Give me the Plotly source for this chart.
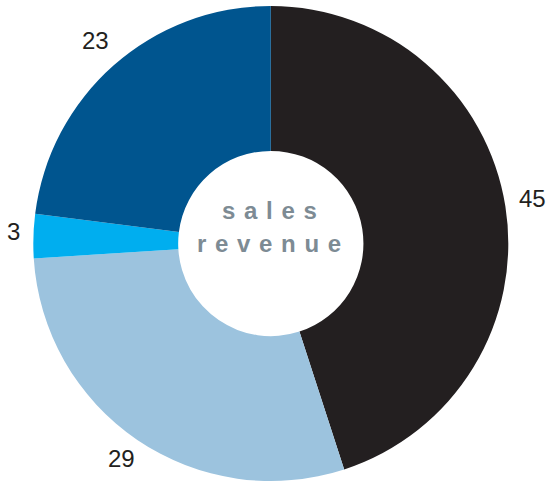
import math
import plotly.graph_objects as go

categories = ["A", "B", "C", "D"]
values = [45, 29, 3, 23]
colors = ["#231f20", "#9cc3de", "#00aeef", "#00558f"]
center_lines = ["sales", "revenue"]

W, H = 550, 484
cx, cy, R = 270.8, 243.5, 237.5
LABEL_GAP = 13
LABEL_SIZE = 24
FONT = "Liberation Sans, Arial, sans-serif"

fig = go.Figure(go.Pie(
    labels=categories,
    values=values,
    sort=False,
    direction="clockwise",
    rotation=0,
    hole=0.39,
    marker=dict(colors=colors, line=dict(width=0)),
    textinfo="none",
    hoverinfo="skip",
    domain=dict(x=[(cx - R) / W, (cx + R) / W], y=[(H - cy - R) / H, (H - cy + R) / H]),
    automargin=False,
))

# value labels placed just outside each slice at its mid angle (clockwise from 12 o'clock)
total = sum(values)
cum = 0
for v in values:
    ang = math.radians((cum + v / 2) / total * 360)
    cum += v
    s = str(v)
    half_w = len(s) * 0.556 * LABEL_SIZE / 2
    half_h = 0.716 * LABEL_SIZE / 2
    r = R + LABEL_GAP + abs(math.sin(ang)) * half_w + abs(math.cos(ang)) * half_h
    lx = cx + r * math.sin(ang)
    ly = cy - r * math.cos(ang)
    fig.add_annotation(x=lx / W, y=1 - ly / H, xref="paper", yref="paper",
                       text=s, showarrow=False, yshift=4,
                       font=dict(family=FONT, size=LABEL_SIZE, color="#231f20"),
                       xanchor="center", yanchor="middle")

def spaced(s):
    return "<b>" + " \u200a".join(list(s)) + "</b>"

for txt, yy in zip(center_lines, [210, 243]):
    fig.add_annotation(x=269 / W, y=1 - yy / H, xref="paper", yref="paper",
                       text=spaced(txt), showarrow=False,
                       font=dict(family=FONT, size=24, color="#7d8b94"),
                       xanchor="center", yanchor="middle")

fig.update_layout(
    width=W, height=H,
    margin=dict(l=0, r=0, t=0, b=0),
    paper_bgcolor="white",
    plot_bgcolor="white",
    showlegend=False,
)

fig.write_html("out.html", config={"displayModeBar": False},
               post_script="document.body.style.margin='0';document.body.style.overflow='hidden';")
